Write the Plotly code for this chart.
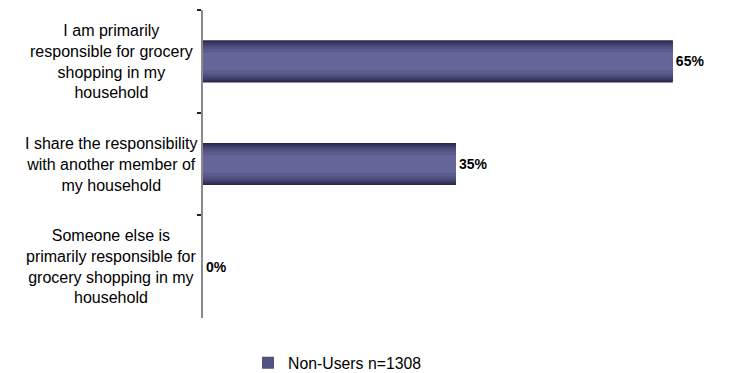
import plotly.graph_objects as go

categories = [
    "I am primarily<br>responsible for grocery<br>shopping in my<br>household",
    "I share the responsibility<br>with another member of<br>my household",
    "Someone else is<br>primarily responsible for<br>grocery shopping in my<br>household",
]
values = [65, 35, 0]
series_name = "Non-Users n=1308"

# gradient simulation layers (outer dark -> inner light)
layer_widths = [0.41, 0.385, 0.36, 0.33, 0.29, 0.24, 0.17]
layer_colors = ["#2a2a44", "#33335a", "#3d3d68", "#474775", "#525282", "#5c5c8e", "#666699"]

fig = go.Figure()
for i, (w, c) in enumerate(zip(layer_widths, layer_colors)):
    fig.add_trace(go.Bar(
        y=categories, x=values, orientation="h", width=w,
        marker=dict(color=c, line=dict(width=0)),
        name=series_name, showlegend=(i == 4),
        text=[f"<b>{v}%</b>" for v in values] if i == 0 else None,
        textposition="outside" if i == 0 else "none",
        textfont=dict(size=14, color="black", family="Liberation Sans, Arial"),
        cliponaxis=False, hoverinfo="skip",
    ))

for cat in categories:
    fig.add_annotation(
        x=-0.172, xref="paper", y=cat, yref="y", text=cat, showarrow=False,
        xanchor="center", yanchor="middle", align="center",
        font=dict(size=16, color="black", family="Liberation Sans, Arial"),
    )

fig.update_layout(
    width=734, height=365,
    margin=dict(l=195, r=7, t=2, b=55, autoexpand=False),
    paper_bgcolor="white", plot_bgcolor="white",
    barmode="overlay",
    font=dict(family="Liberation Sans, Arial", size=14, color="black"),
    showlegend=True,
    legend=dict(orientation="h", x=0.0846, xanchor="left", y=-0.146, yanchor="middle",
                font=dict(size=15.8, color="black"), itemwidth=30),
)
fig.update_xaxes(range=[0, 73.6], visible=False, automargin=False)
fig.update_yaxes(
    categoryorder="array", categoryarray=categories, autorange="reversed",
    showline=True, linecolor="#8a8a8a", linewidth=2,
    ticks="outside", ticklen=4, tickcolor="#222222", tickwidth=1.5, tickson="boundaries",
    showgrid=False, zeroline=False, showticklabels=False, automargin=False,
)
fig.write_html("out.html")
